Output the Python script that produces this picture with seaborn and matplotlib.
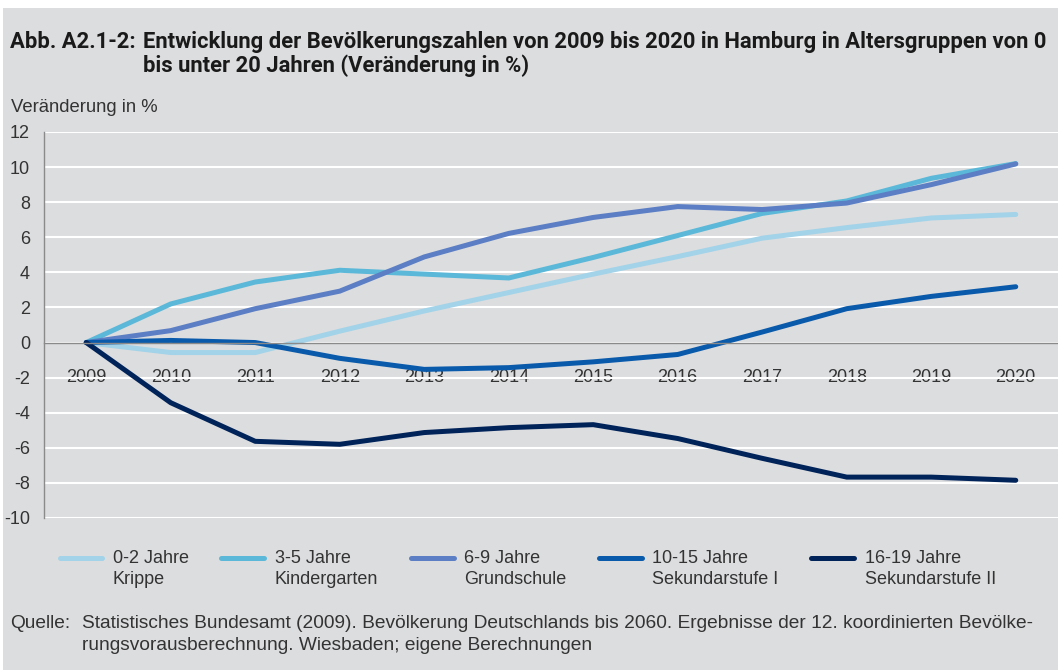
import numpy as np
import pandas as pd
import matplotlib.pyplot as plt
import seaborn as sns
from matplotlib.legend_handler import HandlerLine2D
from matplotlib.patches import Rectangle

# Veränderung gegenüber 2009 in %
years = list(range(2009, 2021))
krippe = [0, -0.57, -0.57, 0.65, 1.8, 2.85, 3.9, 4.9, 5.95, 6.55, 7.1, 7.3]
kindergarten = [0, 2.2, 3.45, 4.12, 3.9, 3.68, 4.85, 6.1, 7.36, 8.07, 9.36, 10.2]
grundschule = [0, 0.68, 1.93, 2.93, 4.88, 6.22, 7.13, 7.75, 7.58, 7.95, 9.0, 10.18]
sek1 = [0, 0.12, 0, -0.9, -1.53, -1.43, -1.1, -0.68, 0.6, 1.93, 2.63, 3.18]
sek2 = [0, -3.43, -5.63, -5.8, -5.13, -4.85, -4.68, -5.47, -6.6, -7.67, -7.67, -7.85]

groups = ["0-2 Jahre\nKrippe", "3-5 Jahre\nKindergarten", "6-9 Jahre\nGrundschule",
          "10-15 Jahre\nSekundarstufe I", "16-19 Jahre\nSekundarstufe II"]
colors = ["#a3d3e8", "#5bb8d8", "#5b7ec4", "#0a5aab", "#00235a"]

df = pd.DataFrame({
    "Jahr": years * 5,
    "Veraenderung": krippe + kindergarten + grundschule + sek1 + sek2,
    "Gruppe": np.repeat(groups, len(years)),
})

bg = "#dcdddf"
grey = "#8a8a8a"
txt = "#333333"
W, H = 1058, 670

sns.set_style("whitegrid", {"axes.facecolor": bg, "grid.color": "white"})
plt.rcParams["font.family"] = ["Liberation Sans", "DejaVu Sans"]
plt.rcParams["axes.unicode_minus"] = False

fig = plt.figure(figsize=(W / 100, H / 100), dpi=100, facecolor="white")
fig.add_artist(Rectangle((3 / W, 0), 1, 1 - 8 / H, transform=fig.transFigure,
                         facecolor=bg, edgecolor="none", zorder=-5))

ax = fig.add_axes([44 / W, 1 - 518 / H, (W - 44) / W, 386 / H])
sns.lineplot(data=df, x="Jahr", y="Veraenderung", hue="Gruppe", palette=colors,
             linewidth=3.6, legend=False, ax=ax, solid_capstyle="round")

ax.set_xlim(2008.5, 2020.5)
ax.set_ylim(-10, 12)
ax.set_yticks(range(-10, 13, 2))
ax.set_xticks(years)
ax.set_xticks(np.arange(2009.5, 2021, 1), minor=True)
ax.set_xlabel("")
ax.set_ylabel("")

ax.grid(axis="x", visible=False)
ax.grid(axis="y", which="major", color="white", linewidth=1.5)
for s in ["top", "right"]:
    ax.spines[s].set_visible(False)
ax.spines["bottom"].set_position(("data", 0))
ax.spines["bottom"].set_color(grey)
ax.spines["bottom"].set_linewidth(1)
ax.spines["left"].set_color(grey)
ax.spines["left"].set_linewidth(1)

ax.tick_params(axis="x", which="major", length=0, pad=19, labelsize=13, labelcolor=txt)
ax.tick_params(axis="x", which="minor", length=3, width=1, color=grey, direction="out")
ax.tick_params(axis="y", length=4.3, width=1, color=grey, pad=5.8, labelsize=13, labelcolor=txt)

# Titel
tfam = ["Roboto", "DejaVu Sans"]
tsize = 15.8
fig.text(10 / W, 1 - 48.3 / H, "Abb. A2.1-2:", fontsize=tsize, fontweight="bold",
         family=tfam, color="#1a1a1a", va="baseline")
fig.text(143 / W, 1 - 48.3 / H,
         "Entwicklung der Bevölkerungszahlen von 2009 bis 2020 in Hamburg in Altersgruppen von 0",
         fontsize=tsize, fontweight="bold", family=tfam, color="#1a1a1a", va="baseline")
fig.text(143 / W, 1 - 71.7 / H, "bis unter 20 Jahren (Veränderung in %)",
         fontsize=tsize, fontweight="bold", family=tfam, color="#1a1a1a", va="baseline")

fig.text(11 / W, 1 - 111.7 / H, "Veränderung in %", fontsize=13.3, color=txt, va="baseline")


# Legendenlinie auf Höhe der ersten Textzeile
class FirstLineHandler(HandlerLine2D):
    def create_artists(self, legend, orig_handle, xdescent, ydescent, width, height, fontsize, trans):
        arts = super().create_artists(legend, orig_handle, xdescent, ydescent, width, height, fontsize, trans)
        for a in arts:
            a.set_ydata(np.asarray(a.get_ydata(), dtype=float) + 0.6 * fontsize)
        return arts


handles = ax.get_lines()[:5]
leg = fig.legend(handles, groups, loc="upper left", bbox_to_anchor=(59.5 / W, 1 - 550 / H),
                 ncol=5, frameon=False, fontsize=13, borderpad=0, borderaxespad=0,
                 handlelength=2.38, handletextpad=0.58, columnspacing=1.8,
                 handler_map={l: FirstLineHandler() for l in handles})
for t in leg.get_texts():
    t.set_color(txt)
    t.set_linespacing(1.28)

# Quelle
fsize = 13.75
fig.text(10 / W, 1 - 628 / H, "Quelle:", fontsize=fsize, color=txt, va="baseline")
fig.text(82 / W, 1 - 628 / H,
         "Statistisches Bundesamt (2009). Bevölkerung Deutschlands bis 2060. "
         "Ergebnisse der 12. koordinierten Bevölke-",
         fontsize=fsize, color=txt, va="baseline")
fig.text(82 / W, 1 - 650 / H, "rungsvorausberechnung. Wiesbaden; eigene Berechnungen",
         fontsize=fsize, color=txt, va="baseline")

fig.savefig("out.png", dpi=100, facecolor=fig.get_facecolor())
